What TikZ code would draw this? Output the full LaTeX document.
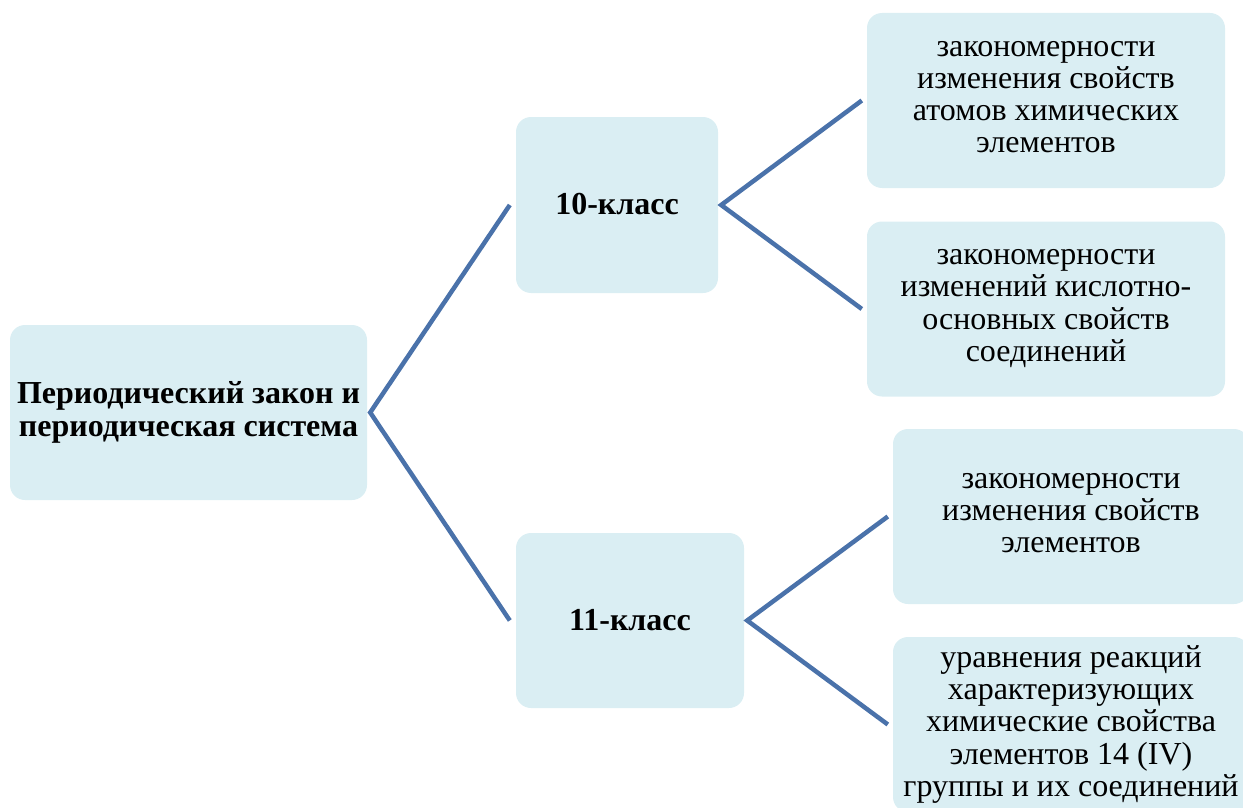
\documentclass[tikz,border=0pt]{standalone}
\usepackage{fontspec}
\setmainfont{Liberation Serif}
\newfontfamily\tnr{Liberation Serif}
\definecolor{boxfill}{HTML}{DAEEF3}
\definecolor{linkcol}{RGB}{74,114,170}
\begin{document}
\begin{tikzpicture}[x=1pt,y=-1pt,
  box/.style={fill=boxfill, draw=none, rounded corners=15pt, align=center,
    inner sep=0pt, font=\tnr\fontsize{32}{32.2}\selectfont,
    execute at begin node={\rule{0pt}{26.6pt}},
    execute at end node={\rule[-7pt]{0pt}{7pt}}},
  boldbox/.style={box, font=\tnr\fontsize{32}{32.2}\selectfont\bfseries},
  link/.style={draw=linkcol, line width=4.5pt, line join=miter}]
\useasboundingbox (0,0) rectangle (1243,808);
\clip (0,0) rectangle (1243,808);
\node[boldbox, minimum width=357pt, minimum height=175pt] (root) at (188.5,412.5)
  {Периодический закон и\\периодическая система};
\node[boldbox, minimum width=202pt, minimum height=176pt] (c10) at (617,205) {10-класс};
\node[boldbox, minimum width=228pt, minimum height=175pt] (c11) at (630,620.5) {11-класс};
\node[box, minimum width=358pt, minimum height=175pt] (l1) at (1046,100.5)
  {закономерности\\изменения свойств\\атомов химических\\элементов};
\node[box, minimum width=358pt, minimum height=175pt] (l2) at (1046,309)
  {закономерности\\изменений кислотно-\\основных свойств\\соединений};
\node[box, minimum width=356pt, minimum height=175pt] (l3) at (1071,516.5)
  {закономерности\\изменения свойств\\элементов};
\node[box, minimum width=356pt, minimum height=175pt] (l4) at (1071,724.5)
  {уравнения реакций\\характеризующих\\химические свойства\\элементов 14 (IV)\\группы и их соединений};
\draw[link] ([xshift=-6pt]c10.west) -- ([xshift=3pt]root.east) -- ([xshift=-6pt]c11.west);
\draw[link] ([xshift=-5pt]l1.west) -- ([xshift=3pt]c10.east) -- ([xshift=-5pt]l2.west);
\draw[link] ([xshift=-5pt]l3.west) -- ([xshift=3pt]c11.east) -- ([xshift=-5pt]l4.west);
\end{tikzpicture}
\end{document}
